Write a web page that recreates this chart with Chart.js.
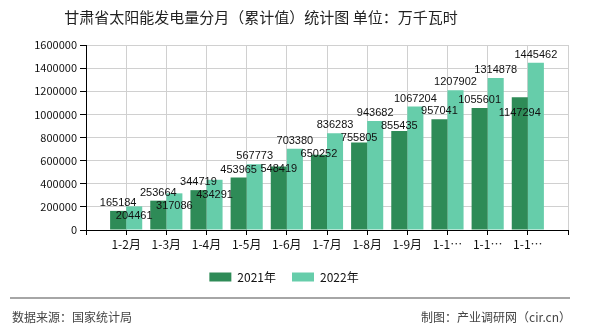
<!DOCTYPE html>
<html>
<head>
<meta charset="utf-8">
<script src="https://cdn.jsdelivr.net/npm/chart.js@4/dist/chart.umd.min.js"></script>
<style>
html,body{margin:0;padding:0;background:#fff;}
#wrap{width:590px;height:330px;position:relative;}
</style>
</head>
<body>
<div id="wrap"><canvas id="c" width="590" height="330"></canvas></div>
<script>
const categories = ['1-2月','1-3月','1-4月','1-5月','1-6月','1-7月','1-8月','1-9月','1-10月','1-11月','1-12月'];
const series2021 = [165184,253664,344719,453965,548419,650252,755805,855435,957041,1055601,1147294];
const series2022 = [204461,317086,434291,567773,703380,836283,943682,1067204,1207902,1314878,1445462];
const seriesNames = ['2021年','2022年'];
const yTicks = [0,200000,400000,600000,800000,1000000,1200000,1400000,1600000];
const titleText = '甘肃省太阳能发电量分月（累计值）统计图 单位：万千瓦时';
const sourceText = '数据来源：国家统计局';
const makerText = '制图：产业调研网（cir.cn）';

const FONT = '"Noto Sans CJK SC","Noto Sans",sans-serif';

// pad categories with empty slots at both ends (axis without boundary gap)
const labels = [''].concat(categories, ['']);
const pad = a => [null].concat(a, [null]);

const decorPlugin = {
  id: 'decor',
  afterDraw(chart) {
    const ctx = chart.ctx;
    ctx.save();
    ctx.fillStyle = '#222';
    ctx.font = '15px ' + FONT;
    ctx.textAlign = 'center';
    ctx.textBaseline = 'middle';
    ctx.fillText(titleText, 261, 17);
    ctx.strokeStyle = '#888';
    ctx.lineWidth = 1.5;
    ctx.beginPath();
    ctx.moveTo(10, 298);
    ctx.lineTo(570, 298);
    ctx.stroke();
    ctx.fillStyle = '#444';
    ctx.font = '12px ' + FONT;
    ctx.textAlign = 'left';
    ctx.fillText(sourceText, 12, 317);
    ctx.textAlign = 'right';
    ctx.fillText(makerText, 571, 317);
    ctx.restore();
  }
};

const valueLabelPlugin = {
  id: 'valueLabels',
  afterDatasetsDraw(chart) {
    const ctx = chart.ctx;
    ctx.save();
    ctx.font = '11px "Liberation Sans",' + FONT;
    ctx.fillStyle = '#111';
    ctx.textAlign = 'center';
    ctx.textBaseline = 'middle';
    const h = 12;
    const placed = [];
    const n = labels.length;
    for (let i = 0; i < n; i++) {
      chart.data.datasets.forEach((ds, di) => {
        const v = ds.data[i];
        if (v == null) return;
        const el = chart.getDatasetMeta(di).data[i];
        const text = String(v);
        const w = ctx.measureText(text).width;
        const box = {x1: el.x - w/2, x2: el.x + w/2, y1: el.y - 2 - h, y2: el.y - 2};
        let moved = true, guard = 0;
        while (moved && guard < 20) {
          moved = false; guard++;
          for (const p of placed) {
            if (box.x1 < p.x2 && box.x2 > p.x1 && box.y1 < p.y2 && box.y2 > p.y1) {
              const dy = p.y2 + 1 - box.y1;
              box.y1 += dy; box.y2 += dy; moved = true;
            }
          }
        }
        placed.push(box);
        ctx.fillText(text, el.x, (box.y1 + box.y2) / 2);
      });
    }
    ctx.restore();
  }
};

new Chart(document.getElementById('c'), {
  type: 'bar',
  data: {
    labels: labels,
    datasets: [
      {label: seriesNames[0], data: pad(series2021), backgroundColor: '#2E8B57', categoryPercentage: 0.8, barPercentage: 1.0},
      {label: seriesNames[1], data: pad(series2022), backgroundColor: '#66CDAA', categoryPercentage: 0.8, barPercentage: 1.0}
    ]
  },
  options: {
    responsive: false,
    animation: false,
    devicePixelRatio: 1,
    layout: {padding: {left: 0, right: 22, top: 45, bottom: 37}},
    plugins: {
      title: {display: false},
      tooltip: {enabled: false},
      legend: {
        position: 'bottom',
        labels: {
          boxWidth: 22, boxHeight: 9, padding: 16,
          color: '#111',
          font: {family: FONT, size: 12}
        }
      }
    },
    scales: {
      x: {
        type: 'category',
        offset: false,
        grid: {display: true, offset: false, color: '#d0d0d0', tickColor: '#000', tickLength: 5, drawOnChartArea: true},
        border: {display: true, color: '#000', width: 1},
        ticks: {
          autoSkip: false, maxRotation: 0, minRotation: 0, padding: 2,
          color: '#111', font: {family: FONT, size: 12},
          callback: function(value) {
            const s = this.getLabelForValue(value);
            return s.length > 4 ? s.slice(0, 3) + '…' : s;
          }
        },
        afterFit(scale) { scale.height = 25; }
      },
      y: {
        min: 0, max: yTicks[yTicks.length - 1],
        afterBuildTicks(scale) { scale.ticks = yTicks.map(v => ({value: v})); },
        grid: {color: '#d0d0d0', tickColor: '#000', tickLength: 6},
        border: {display: true, color: '#000', width: 1},
        ticks: {
          padding: 3, color: '#111', font: {family: FONT, size: 11},
          callback: v => String(v)
        },
        afterFit(scale) { scale.width = 86; }
      }
    }
  },
  plugins: [valueLabelPlugin, decorPlugin]
});
</script>
</body>
</html>
